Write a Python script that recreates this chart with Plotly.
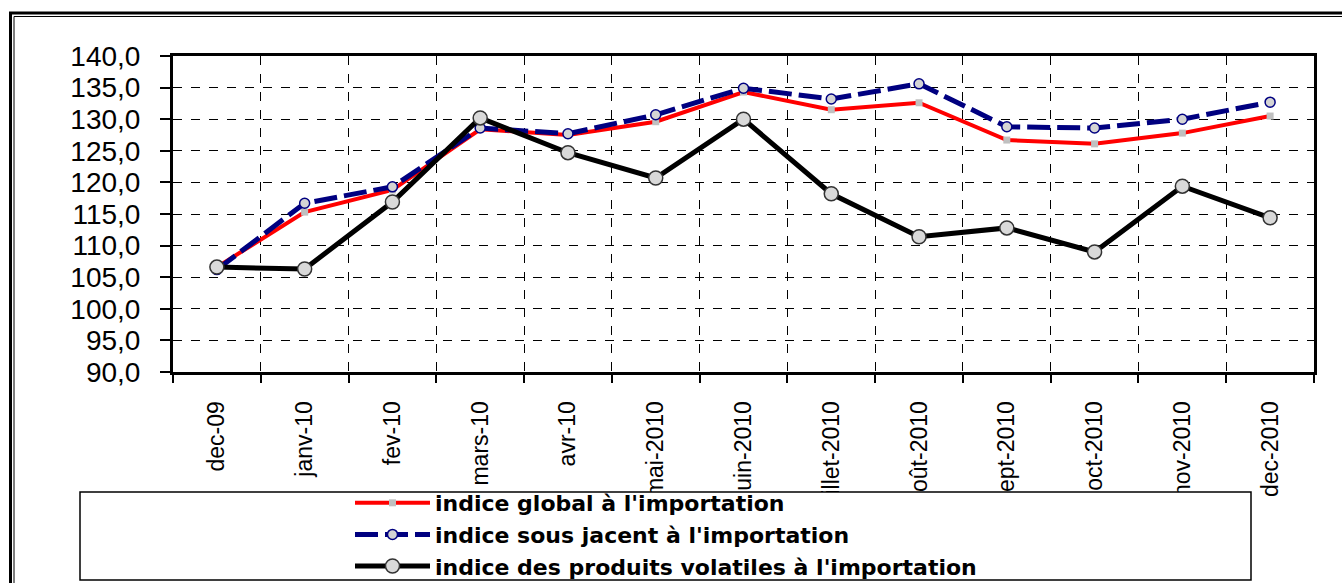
import plotly.graph_objects as go

months = ["dec-09", "janv-10", "fev-10", "mars-10", "avr-10", "mai-2010", "juin-2010",
          "juillet-2010", "août-2010", "sept-2010", "oct-2010", "nov-2010", "dec-2010"]
global_idx = [106.6, 115.3, 118.8, 128.4, 127.5, 129.6, 134.3, 131.5, 132.6, 126.7, 126.1, 127.8, 130.5]
sous_jacent = [106.2, 116.7, 119.3, 128.6, 127.7, 130.7, 134.9, 133.2, 135.6, 128.8, 128.6, 130.0, 132.7]
volatiles = [106.6, 106.3, 116.9, 130.2, 124.7, 120.7, 130.0, 118.2, 111.4, 112.8, 109.0, 119.4, 114.4]

names = ["indice global à l'importation",
         "indice sous jacent à l'importation",
         "indice des produits volatiles à l'importation"]

W, H = 1342, 583
L, R, T, B = 173, 28, 56, 211
pw, ph = W - L - R, H - T - B

def px(x):
    return (x - L) / pw

def py(y):
    return (H - B - y) / ph

fig = go.Figure()
fig.add_trace(go.Scatter(
    x=months, y=global_idx, name=names[0], mode="lines+markers",
    line=dict(color="#FF0000", width=4),
    marker=dict(symbol="square", size=7, color="#C0C0C0", line=dict(width=0)),
))
fig.add_trace(go.Scatter(
    x=months, y=sous_jacent, name=names[1], mode="lines+markers",
    line=dict(color="#000080", width=5, dash="23px,7px"),
    marker=dict(symbol="circle", size=10, color="#D4D4D4", line=dict(color="#000080", width=1.5)),
))
fig.add_trace(go.Scatter(
    x=months, y=volatiles, name=names[2], mode="lines+markers",
    line=dict(color="#000000", width=5),
    marker=dict(symbol="circle", size=14, color="#D9D9D9", line=dict(color="#333333", width=1.5)),
))

shapes = [
    # legend box (covers lower part of rotated labels, as in reference)
    dict(type="rect", xref="paper", yref="paper", layer="above",
         x0=px(80), x1=px(1251), y0=py(580), y1=py(492),
         fillcolor="white", line=dict(color="black", width=1.5)),
    # outer double frame
    dict(type="rect", xref="paper", yref="paper", layer="below",
         x0=px(10.5), x1=px(1360), y0=py(600), y1=py(13),
         fillcolor="rgba(0,0,0,0)", line=dict(color="black", width=3)),
    dict(type="rect", xref="paper", yref="paper", layer="below",
         x0=px(14), x1=px(1360), y0=py(600), y1=py(16.5),
         fillcolor="rgba(0,0,0,0)", line=dict(color="black", width=1)),
]

fig.update_layout(
    width=W, height=H,
    margin=dict(l=L, r=R, t=T, b=B, pad=0, autoexpand=False),
    paper_bgcolor="white", plot_bgcolor="white",
    separators=", ",
    font=dict(family="Liberation Sans, Arial, sans-serif", color="black"),
    showlegend=True,
    legend=dict(
        x=px(350), y=py(587), xanchor="left", yanchor="bottom",
        bgcolor="rgba(0,0,0,0)", borderwidth=0,
        font=dict(family="DejaVu Sans, sans-serif", size=22, color="black", weight="bold"),
        itemwidth=75, tracegroupgap=0,
    ),
    shapes=shapes,
)

fig.update_yaxes(
    range=[90, 140], dtick=5, tick0=90, tickformat=".1f", automargin=False,
    showline=True, linecolor="black", linewidth=3, mirror=True,
    ticks="outside", ticklen=10, tickwidth=1.5, tickcolor="black",
    showgrid=True, gridcolor="black", gridwidth=1, griddash="dash",
    zeroline=False,
    tickfont=dict(size=28, family="Liberation Sans, Arial, sans-serif", color="black"),
    ticklabelstandoff=14,
)
fig.update_xaxes(
    type="category", tickson="boundaries", automargin=False,
    range=[-0.5, len(months) - 0.5],
    showline=True, linecolor="black", linewidth=3, mirror=True,
    ticks="outside", ticklen=8, tickwidth=1.5, tickcolor="black",
    showgrid=True, gridcolor="black", gridwidth=1, griddash="dash",
    tickangle=-90,
    tickfont=dict(size=23, family="Liberation Sans, Arial, sans-serif", color="black"),
    ticklabelstandoff=17,
)

fig.write_html("out.html", config={"displayModeBar": False},
               post_script="document.body.style.margin='0px';")
